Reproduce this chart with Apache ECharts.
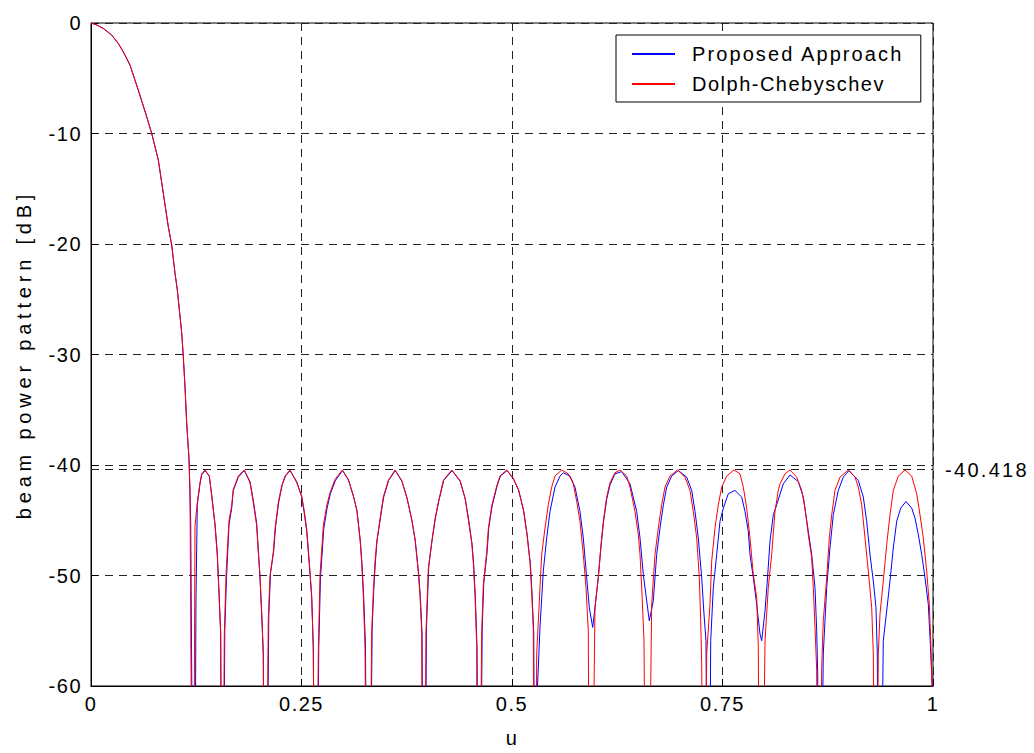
<!DOCTYPE html>
<html>
<head>
<meta charset="utf-8">
<title>beam power pattern</title>
<script src="https://cdn.jsdelivr.net/npm/echarts@6/dist/echarts.min.js"></script>
<style>
  html, body { margin: 0; padding: 0; background: #fff; }
  #chart { width: 1034px; height: 753px; }
</style>
</head>
<body>
<div id="chart"></div>
<script>
// Axis ticks
const xTicks = [0, 0.25, 0.5, 0.75, 1];
const yTicks = [0, -10, -20, -30, -40, -50, -60];
const sidelobeLevel = -40.418;
const seriesNames = ['Proposed Approach', 'Dolph-Chebyschev'];
const xName = 'u';
const yName = 'beam power pattern [dB]';

// Dolph-Chebyshev beam power pattern, [u, dB] (nulls fall below -60 dB)
const dolphChebyshev = [
  [0, 0], [0.0060, -0.15], [0.01461, -0.48], [0.02458, -1.08], [0.03242, -1.84], [0.03836, -2.59],
  [0.04632, -3.79], [0.05617, -6.05], [0.06615, -8.46], [0.07209, -9.97], [0.07993, -12.38],
  [0.08587, -15.39], [0.09180, -18.4], [0.09584, -20.05], [0.09976, -22.6], [0.10249, -24.1],
  [0.10487, -25.9], [0.10772, -28.0], [0.10962, -30.15], [0.11164, -32.9], [0.11366, -36.2],
  [0.11639, -39.5], [0.11758, -42.2], [0.12114, -90],
  [0.12352, -45.5], [0.12625, -43.4], [0.12945, -41.6], [0.13147, -40.8], [0.13539, -40.45],
  [0.14050, -41.0], [0.14335, -42.8], [0.14727, -45.5], [0.15000, -48.2], [0.15238, -52.4],
  [0.15404, -55.1], [0.15558, -90],
  [0.15831, -55.4], [0.16033, -50.0], [0.16390, -45.0], [0.16710, -43.7], [0.16900, -42.2],
  [0.17494, -41.0], [0.18207, -40.45], [0.18884, -41.6], [0.19276, -43.4], [0.19679, -45.5],
  [0.19869, -47.9], [0.20071, -50.0], [0.20273, -53.3], [0.20463, -56.9], [0.20618, -90],
  [0.21057, -53.9], [0.21259, -50.0], [0.21651, -47.9], [0.21853, -45.8], [0.22245, -43.4],
  [0.22648, -41.9], [0.23040, -41.0], [0.23634, -40.45], [0.24430, -41.6], [0.25024, -42.8],
  [0.25297, -44.0], [0.25618, -45.8], [0.25926, -48.8], [0.26211, -51.8], [0.26401, -56.7], [0.26651, -90],
  [0.26995, -57.0], [0.27197, -50.0], [0.27589, -45.5], [0.27993, -43.7], [0.28385, -42.5],
  [0.28979, -41.3], [0.29846, -40.45], [0.30558, -41.3], [0.31152, -42.8], [0.31556, -44.0],
  [0.31948, -46.7], [0.32150, -48.8], [0.32340, -51.8], [0.32542, -56.4], [0.32898, -90],
  [0.33337, -55.1], [0.33527, -51.5], [0.33729, -48.8], [0.33931, -47.0], [0.34323, -44.9],
  [0.34715, -42.9], [0.35309, -41.4], [0.36105, -40.45], [0.36900, -41.4], [0.37494, -42.9],
  [0.38088, -44.9], [0.38480, -46.7], [0.38872, -49.7], [0.39074, -51.8], [0.39276, -55.1], [0.39466, -90],
  [0.39786, -55.1], [0.40059, -49.4], [0.40463, -47.0], [0.40855, -44.9], [0.41247, -43.4],
  [0.41841, -41.4], [0.42838, -40.45], [0.43824, -41.4], [0.44418, -43.0], [0.44810, -44.9],
  [0.45214, -47.0], [0.45404, -48.8], [0.45606, -51.8], [0.45808, -56.4], [0.45998, -90],
  [0.46401, -55.1], [0.46591, -50.9], [0.46995, -47.9], [0.47185, -45.8], [0.47589, -43.7],
  [0.48183, -41.9], [0.48575, -41.0], [0.49371, -40.45], [0.50154, -41.2], [0.50748, -42.2],
  [0.51342, -44.0], [0.51746, -46.1], [0.52138, -48.8], [0.52340, -51.5], [0.52530, -54.8], [0.52684, -90],
  [0.52933, -57.1], [0.53325, -51.1], [0.53527, -48.1], [0.53919, -45.7], [0.54311, -43.6],
  [0.54715, -42.0], [0.55107, -41.0], [0.55903, -40.45], [0.56686, -40.8], [0.57280, -41.7],
  [0.57684, -43.3], [0.58076, -45.1], [0.58468, -48.1], [0.58789, -51.1], [0.59062, -55.0], [0.59264, -90],
  [0.59857, -52.9], [0.60249, -50.2], [0.60534, -47.5], [0.60843, -45.1], [0.61247, -42.9],
  [0.61639, -41.6], [0.62233, -40.7], [0.62827, -40.45], [0.63622, -41.0], [0.64014, -42.0],
  [0.64608, -44.2], [0.65000, -46.3], [0.65202, -48.1], [0.65404, -51.1], [0.65677, -55.9], [0.65998, -90],
  [0.66591, -52.6], [0.66983, -48.1], [0.67375, -45.7], [0.67779, -43.6], [0.68171, -42.0],
  [0.68765, -41.0], [0.69656, -40.45], [0.70546, -41.1], [0.71140, -42.3], [0.71532, -44.2],
  [0.71936, -46.6], [0.72245, -50.2], [0.72411, -54.1], [0.72530, -58.0], [0.72743, -90],
  [0.73124, -57.1], [0.73515, -52.6], [0.73717, -48.7], [0.74109, -45.7], [0.74501, -43.6],
  [0.74905, -42.0], [0.75499, -41.0], [0.76366, -40.45], [0.77078, -40.8], [0.77470, -42.0],
  [0.77874, -43.9], [0.78266, -46.6], [0.78658, -49.9], [0.79062, -52.0], [0.79252, -56.5], [0.79513, -90],
  [0.80048, -55.9], [0.80439, -51.1], [0.80843, -48.1], [0.81235, -44.2], [0.81627, -42.3],
  [0.81829, -41.7], [0.82423, -40.8], [0.83017, -40.45], [0.83812, -41.1], [0.84406, -42.3],
  [0.84798, -43.9], [0.85190, -46.3], [0.85594, -48.4], [0.85784, -51.1], [0.85986, -54.7],
  [0.86188, -58.6], [0.86342, -90],
  [0.86782, -58.3], [0.86971, -54.1], [0.87375, -50.2], [0.87684, -46.6], [0.87969, -44.5],
  [0.88361, -42.3], [0.88955, -41.1], [0.89941, -40.45], [0.90736, -41.1], [0.91128, -42.0],
  [0.91532, -43.6], [0.91924, -46.6], [0.92316, -49.6], [0.92720, -52.9], [0.92910, -57.1], [0.93147, -90],
  [0.93504, -57.1], [0.93705, -53.5], [0.94097, -50.5], [0.94501, -47.2], [0.94893, -44.5],
  [0.95285, -42.3], [0.95879, -41.0], [0.96675, -40.45], [0.97470, -41.0], [0.98064, -42.6],
  [0.98456, -44.5], [0.98848, -46.6], [0.99252, -49.6], [0.99561, -52.6], [0.99762, -56.5], [1.0, -64]
];

// Proposed approach beam power pattern, [u, dB]
const proposedApproach = [
  [0, 0], [0.0060, -0.15], [0.01461, -0.5], [0.02458, -1.1], [0.03242, -1.86], [0.03836, -2.62],
  [0.04632, -3.82], [0.05617, -6.1], [0.06615, -8.5], [0.07209, -10.0], [0.07993, -12.42],
  [0.08587, -15.42], [0.09180, -18.45], [0.09584, -20.1], [0.09976, -22.65], [0.10249, -24.15],
  [0.10487, -25.95], [0.10772, -28.05], [0.10962, -30.2], [0.11164, -32.95], [0.11366, -36.25],
  [0.11639, -39.4], [0.11841, -45.2], [0.12233, -90],
  [0.12470, -52.0], [0.12625, -43.6], [0.12945, -41.7], [0.13147, -40.9], [0.13539, -40.5],
  [0.14050, -41.0], [0.14335, -42.7], [0.14727, -45.3], [0.15000, -48.0], [0.15238, -52.0],
  [0.15404, -55.5], [0.15618, -90],
  [0.15890, -55.0], [0.16093, -50.2], [0.16390, -45.4], [0.16710, -43.9], [0.16900, -42.3],
  [0.17494, -41.1], [0.18207, -40.5], [0.18884, -41.5], [0.19276, -43.2], [0.19679, -45.3],
  [0.19869, -47.7], [0.20071, -50.2], [0.20273, -53.6], [0.20463, -57.2], [0.20690, -90],
  [0.21117, -53.6], [0.21319, -49.8], [0.21711, -47.7], [0.21913, -45.6], [0.22305, -43.3],
  [0.22708, -41.8], [0.23100, -41.0], [0.23634, -40.5], [0.24430, -41.5], [0.25024, -42.9],
  [0.25297, -44.2], [0.25618, -46.0], [0.25926, -49.0], [0.26211, -52.0], [0.26401, -56.4], [0.26700, -90],
  [0.27050, -56.5], [0.27250, -50.3], [0.27640, -45.8], [0.28040, -43.9], [0.28430, -42.6],
  [0.29030, -41.4], [0.29880, -40.5], [0.30600, -41.4], [0.31200, -42.9], [0.31600, -44.2],
  [0.31990, -46.9], [0.32190, -49.0], [0.32390, -52.0], [0.32590, -56.2], [0.32950, -90],
  [0.33390, -54.8], [0.33580, -51.3], [0.33780, -48.7], [0.33980, -46.8], [0.34370, -44.8],
  [0.34760, -42.9], [0.35350, -41.4], [0.36140, -40.5], [0.36940, -41.5], [0.37540, -43.0],
  [0.38130, -45.1], [0.38520, -46.9], [0.38920, -49.9], [0.39120, -52.0], [0.39320, -55.3], [0.39520, -90],
  [0.39840, -54.8], [0.40110, -49.2], [0.40510, -46.8], [0.40900, -44.8], [0.41290, -43.3],
  [0.41890, -41.4], [0.42880, -40.5], [0.43870, -41.5], [0.44460, -43.1], [0.44860, -45.0],
  [0.45260, -47.2], [0.45450, -49.0], [0.45650, -52.0], [0.45850, -56.6], [0.46060, -90],
  [0.46460, -54.8], [0.46650, -50.7], [0.47050, -47.8], [0.47240, -45.7], [0.47640, -43.7],
  [0.48230, -41.9], [0.48620, -41.0], [0.49420, -40.5], [0.50200, -41.3], [0.50800, -42.3],
  [0.51400, -44.2], [0.51800, -46.3], [0.52190, -49.0], [0.52390, -51.8], [0.52580, -55.2], [0.52800, -90],
  [0.53004, -60.5], [0.53325, -54.7], [0.53717, -49.6], [0.54121, -46.6], [0.54513, -44.2],
  [0.55107, -42.0], [0.55701, -41.0], [0.56093, -40.7], [0.56888, -41.0], [0.57482, -42.0],
  [0.58076, -44.2], [0.58468, -46.6], [0.58872, -50.2], [0.59181, -52.9], [0.59584, -54.7],
  [0.59857, -52.9], [0.60249, -50.2], [0.60534, -47.7], [0.60843, -45.3], [0.61247, -43.1],
  [0.61639, -41.8], [0.62233, -40.8], [0.63029, -40.6], [0.64014, -41.7], [0.64810, -44.2],
  [0.65202, -46.6], [0.65594, -49.9], [0.65998, -52.3], [0.66306, -54.1], [0.66781, -52.3],
  [0.67185, -48.1], [0.67577, -45.7], [0.67981, -43.6], [0.68373, -42.0], [0.68967, -41.0],
  [0.69754, -40.5], [0.70748, -41.1], [0.71342, -42.3], [0.71734, -44.2], [0.72126, -46.6],
  [0.72530, -50.2], [0.72803, -53.5], [0.73040, -55.9], [0.73314, -90],
  [0.73599, -55.9], [0.73908, -51.1], [0.74311, -48.1], [0.74703, -45.1], [0.75095, -43.9],
  [0.75689, -42.6], [0.76485, -42.3], [0.77280, -42.9], [0.77672, -44.2], [0.78064, -46.0],
  [0.78266, -48.1], [0.78658, -50.2], [0.79062, -52.6], [0.79454, -55.3], [0.79656, -55.9],
  [0.80048, -53.2], [0.80321, -50.5], [0.80641, -46.9], [0.81033, -44.5], [0.81437, -43.6],
  [0.82223, -41.7], [0.83017, -40.9], [0.84002, -41.5], [0.84596, -42.9], [0.85190, -46.0],
  [0.85594, -48.1], [0.85986, -51.1], [0.86188, -55.0], [0.86307, -58.9], [0.86461, -90],
  [0.86971, -57.1], [0.87375, -51.1], [0.87767, -47.5], [0.88159, -44.5], [0.88753, -42.3],
  [0.89347, -41.1], [0.90024, -40.5], [0.91128, -41.4], [0.91722, -42.9], [0.92126, -45.1],
  [0.92518, -48.1], [0.92910, -50.5], [0.93230, -52.9], [0.93385, -57.1], [0.93587, -90],
  [0.94097, -55.9], [0.94501, -53.2], [0.94893, -50.5], [0.95285, -47.5], [0.95689, -45.1],
  [0.96164, -43.9], [0.96793, -43.3], [0.97470, -43.9], [0.97862, -44.8], [0.98254, -46.3],
  [0.98658, -48.1], [0.99050, -50.2], [0.99442, -52.6], [0.99644, -55.6], [0.99846, -58.9], [1.0, -61]
];

const FONT = "Arial, 'Liberation Sans', Helvetica, sans-serif";
const gridDash = { color: '#222', width: 1, type: [8, 6] };

const chart = echarts.init(document.getElementById('chart'), null, { renderer: 'svg' });

chart.setOption({
  animation: false,
  backgroundColor: '#fff',
  textStyle: { fontFamily: FONT },
  grid: {
    left: 91, right: 101, top: 23, bottom: 66,
    show: true, borderColor: '#000', borderWidth: 1, backgroundColor: 'transparent'
  },
  legend: {
    data: seriesNames,
    orient: 'vertical',
    left: 616, top: 35,
    itemWidth: 43, itemHeight: 14, itemGap: 10,
    padding: [9, 52, 8, 15],
    borderColor: '#000', borderWidth: 1, backgroundColor: '#fff',
    selectedMode: false,
    itemStyle: { opacity: 0 },
    textStyle: {
      fontFamily: FONT, fontSize: 20, color: '#000',
      padding: [0, 0, 0, 12]
    }
  },
  xAxis: {
    type: 'value',
    min: xTicks[0], max: xTicks[xTicks.length - 1], interval: 0.25,
    name: xName, nameLocation: 'middle', nameGap: 42,
    nameTextStyle: { fontFamily: FONT, fontSize: 20, color: '#000' },
    axisLine: { show: true, onZero: false, lineStyle: { color: '#000', width: 1 } },
    axisTick: { show: true, inside: true, length: 7, lineStyle: { color: '#000' } },
    axisLabel: {
      fontFamily: FONT, fontSize: 20, color: '#000', margin: 8,
      formatter: v => String(v)
    },
    splitLine: { show: true, lineStyle: gridDash }
  },
  yAxis: {
    type: 'value',
    min: yTicks[yTicks.length - 1], max: yTicks[0], interval: 10,
    name: yName, nameLocation: 'middle', nameGap: 57,
    nameTextStyle: { fontFamily: FONT, fontSize: 20, color: '#000' },
    axisLine: { show: true, onZero: false, lineStyle: { color: '#000', width: 1 } },
    axisTick: { show: true, inside: true, length: 7, lineStyle: { color: '#000' } },
    axisLabel: { fontFamily: FONT, fontSize: 20, color: '#000', margin: 9 },
    splitLine: { show: true, lineStyle: gridDash }
  },
  series: [
    {
      name: seriesNames[0],
      type: 'line',
      data: proposedApproach,
      symbol: 'none', showSymbol: false,
      clip: true,
      lineStyle: { color: '#0000ff', width: 1 },
      itemStyle: { color: '#0000ff' },
      z: 3
    },
    {
      name: seriesNames[1],
      type: 'line',
      data: dolphChebyshev,
      symbol: 'none', showSymbol: false,
      clip: true,
      lineStyle: { color: '#ff0000', width: 1 },
      itemStyle: { color: '#ff0000' },
      z: 4,
      markLine: {
        silent: true,
        symbol: ['none', 'none'],
        lineStyle: { color: '#222', width: 1, type: [8, 6] },
        label: {
          show: true, position: 'end', distance: 12,
          fontFamily: FONT, fontSize: 20, color: '#000',
          formatter: () => String(sidelobeLevel)
        },
        data: [{ yAxis: sidelobeLevel }],
        z: 1
      }
    }
  ]
});

// Wide letter spacing for the chart's text, as in the original plot export
const letterSpacing = {
  [yName]: 4.8,
  [seriesNames[0]]: 2.1,
  [seriesNames[1]]: 1.5,
  [String(sidelobeLevel)]: 2.3
};
function spaceLetters() {
  document.querySelectorAll('#chart svg text').forEach(t => {
    const sp = letterSpacing[t.textContent];
    t.style.letterSpacing = (sp !== undefined ? sp : 1.5) + 'px';
  });
}
spaceLetters();
chart.on('finished', spaceLetters);
</script>
</body>
</html>
